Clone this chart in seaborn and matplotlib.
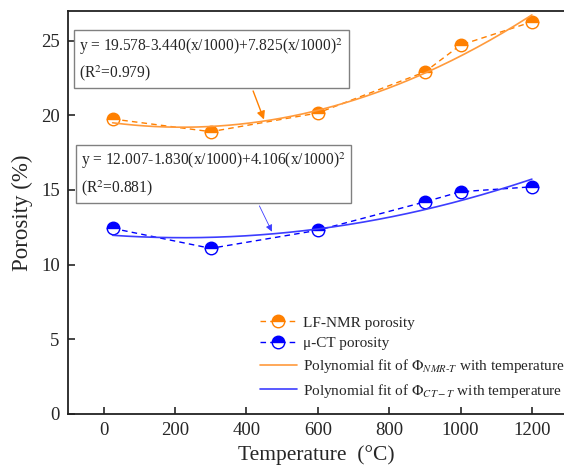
import numpy as np
import matplotlib
matplotlib.use("Agg")
import matplotlib.pyplot as plt
import seaborn as sns

# ---- data ----
temperature = [25, 300, 600, 900, 1000, 1200]
nmr_porosity = [19.75, 18.9, 20.15, 22.9, 24.7, 26.25]
ct_porosity = [12.43, 11.09, 12.3, 14.2, 14.88, 15.21]
nmr_coef = [19.578, -3.440, 7.825]   # a + b(x/1000) + c(x/1000)^2
ct_coef = [12.007, -1.830, 4.106]
nmr_r2 = 0.979
ct_r2 = 0.881
xticks = [0, 200, 400, 600, 800, 1000, 1200]
yticks = [0, 5, 10, 15, 20, 25]

sns.set_style("ticks")
plt.rcParams['font.family'] = ['Liberation Serif', 'DejaVu Serif']
plt.rcParams['mathtext.fontset'] = 'stix'

ORANGE = '#FF8000'
ORANGE_L = '#FF9A3C'
BLUE = '#0000FF'
BLUE_L = '#3D3DFF'

fig = plt.figure(figsize=(5.64, 4.76), dpi=100)
ax = fig.add_axes([68/564, 62/476, 1 - 68/564, 403.3/476])

def fit(coef, x):
    t = np.asarray(x) / 1000.0
    return coef[0] + coef[1] * t + coef[2] * t ** 2

xs = np.linspace(temperature[0], temperature[-1], 200)

mk = dict(marker='o', markersize=9, fillstyle='top', markerfacecoloralt='white',
          markeredgewidth=1.0)
sns.lineplot(x=temperature, y=nmr_porosity, ax=ax, color=ORANGE, linestyle=(0, (4, 3)),
             linewidth=1.0, markeredgecolor=ORANGE, label='LF-NMR porosity', **mk)
sns.lineplot(x=temperature, y=ct_porosity, ax=ax, color=BLUE, linestyle=(0, (4, 3)),
             linewidth=1.0, markeredgecolor=BLUE, label='\u03bc-CT porosity', **mk)
sns.lineplot(x=xs, y=fit(nmr_coef, xs), ax=ax, color=ORANGE_L, linewidth=1.2,
             label=r'Polynomial fit of $\Phi_{NMR\text{-}T}$ with temperature')
sns.lineplot(x=xs, y=fit(ct_coef, xs), ax=ax, color=BLUE_L, linewidth=1.2,
             label=r'Polynomial fit of $\Phi_{CT-T}$ with temperature')

ax.set_xlim(-100, 1290)
ax.set_ylim(0, 27)
ax.set_xticks(xticks)
ax.set_yticks(yticks)
ax.tick_params(direction='in', length=5, width=1.2, labelsize=13.5, pad=6)
for s in ['left', 'bottom', 'top']:
    ax.spines[s].set_linewidth(1.3)
    ax.spines[s].set_color('#222222')
ax.spines['right'].set_visible(False)
ax.set_xlabel('Temperature  (\u00b0C)', fontsize=15.5, labelpad=4)
ax.set_ylabel('Porosity (%)', fontsize=16.5, labelpad=6)

def eq_text(coef, r2):
    return (f"y = {coef[0]:.3f}{coef[1]:+.3f}(x/1000)+{coef[2]:.3f}(x/1000)$^2$\n"
            f"(R$^2$={r2:.3f})")

bbox = dict(boxstyle='square,pad=0.35', facecolor='white', edgecolor='#808080', linewidth=1.0)
ax.text(-68, 23.73, eq_text(nmr_coef, nmr_r2), fontsize=11.2, va='center', ha='left',
        bbox=bbox, linespacing=1.45, zorder=5)
ax.text(-63, 16.06, eq_text(ct_coef, ct_r2), fontsize=11.2, va='center', ha='left',
        bbox=bbox, linespacing=1.45, zorder=5)

ax.annotate('', xy=(452, 19.54), xytext=(416, 21.8),
            arrowprops=dict(arrowstyle='-|>', color=ORANGE, lw=1.0, mutation_scale=12))
ax.annotate('', xy=(475, 12.04), xytext=(433, 14.1),
            arrowprops=dict(arrowstyle='-|>', color=BLUE_L, lw=0.6, mutation_scale=10))

leg = ax.legend(loc='lower left', bbox_to_anchor=(0.375, 0.02), frameon=False,
                fontsize=11, handlelength=2.4, handletextpad=0.4,
                labelspacing=0.45, borderaxespad=0)

fig.savefig('out.png', dpi=100)
